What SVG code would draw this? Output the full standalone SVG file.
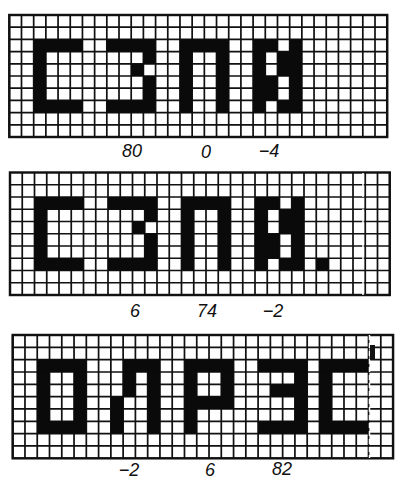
<svg xmlns="http://www.w3.org/2000/svg" width="395" height="481" viewBox="0 0 395 481">
<style>
.grid{fill:none;stroke:#111;stroke-width:0.14}
.frame{fill:none;stroke:#111;stroke-width:0.2}
.ink{fill:#0a0a0a}
.lbl{font-family:"Liberation Sans",Arial,sans-serif;font-style:italic;font-size:18px;fill:#111;text-anchor:middle}
</style>
<defs>
<path id="g" d="M0 0V10M1 0V10M2 0V10M3 0V10M4 0V10M5 0V10M6 0V10M7 0V10M8 0V10M9 0V10M10 0V10M11 0V10M12 0V10M13 0V10M14 0V10M15 0V10M16 0V10M17 0V10M18 0V10M19 0V10M20 0V10M21 0V10M22 0V10M23 0V10M24 0V10M25 0V10M26 0V10M27 0V10M28 0V10M29 0V10M30 0V10M31 0V10M0 1H31M0 2H31M0 3H31M0 4H31M0 5H31M0 6H31M0 7H31M0 8H31M0 9H31"/>
<g id="szpi">
<rect x="2" y="2" width="4" height="1"/><rect x="2" y="3" width="1" height="4"/><rect x="2" y="7" width="4" height="1"/>
<rect x="8" y="2" width="4" height="1"/><rect x="11" y="3" width="1" height="1"/><rect x="10" y="4" width="1" height="1"/><rect x="11" y="5" width="1" height="2"/><rect x="8" y="7" width="4" height="1"/>
<rect x="14" y="2" width="4" height="1"/><rect x="14" y="3" width="1" height="5"/><rect x="17" y="3" width="1" height="5"/>
<rect x="20" y="2" width="1" height="6"/><rect x="23" y="2" width="1" height="6"/><rect x="21" y="2" width="1" height="1"/><rect x="22" y="3" width="1" height="2"/><rect x="21" y="5" width="1" height="2"/><rect x="22" y="7" width="1" height="1"/>
</g>
</defs>
<g id="panel1" transform="translate(9.3 15) scale(12.19 12.2)">
<rect x="0" y="0" width="31" height="10" fill="#fff"/>
<use href="#g" class="grid"/>
<rect class="frame" x="0" y="0" width="31" height="10"/>
<use href="#szpi" class="ink"/>
</g>
<g id="panel2" transform="translate(10 172.5) scale(12.25 12.25)">
<rect x="0" y="0" width="31" height="10" fill="#fff"/>
<use href="#g" class="grid"/>
<rect class="frame" x="0" y="0" width="31" height="10"/>
<use href="#szpi" class="ink"/>
<rect class="ink" x="25" y="7" width="1" height="1"/>
</g>
<g id="panel3" transform="translate(12.7 335) scale(12.27 12.33)">
<rect x="0" y="0" width="31" height="10" fill="#fff"/>
<use href="#g" class="grid"/>
<rect class="frame" x="0" y="0" width="31" height="10"/>
<g class="ink">
<rect x="2" y="2" width="4" height="1"/><rect x="2" y="7" width="4" height="1"/><rect x="2" y="3" width="1" height="4"/><rect x="5" y="3" width="1" height="4"/>
<rect x="9" y="2" width="3" height="1"/><rect x="9" y="3" width="1" height="2"/><rect x="8" y="5" width="1" height="3"/><rect x="11" y="3" width="1" height="5"/>
<rect x="14" y="2" width="4" height="1"/><rect x="14" y="3" width="1" height="5"/><rect x="17" y="3" width="1" height="2"/><rect x="15" y="5" width="3" height="1"/>
<rect x="20" y="2" width="4" height="1"/><rect x="23" y="3" width="1" height="4"/><rect x="21" y="4" width="2" height="1"/><rect x="20" y="7" width="4" height="1"/>
<rect x="25" y="2" width="4" height="1"/><rect x="25" y="3" width="1" height="4"/><rect x="25" y="7" width="4" height="1"/>
</g>
</g>
<g id="artifacts">
<line x1="363" y1="173" x2="363" y2="295" stroke="#fff" stroke-width="1.5" stroke-dasharray="6 3"/>
<line x1="369.5" y1="335" x2="369.5" y2="458" stroke="#fff" stroke-width="1.5" stroke-dasharray="5 3"/>
<rect x="370" y="345" width="5" height="15" fill="#111"/>
</g>
<g id="labels">
<text class="lbl" x="132" y="157">80</text>
<text class="lbl" x="206" y="158">0</text>
<text class="lbl" x="269" y="157">−4</text>
<text class="lbl" x="135" y="317">6</text>
<text class="lbl" x="207" y="317">74</text>
<text class="lbl" x="273" y="317">−2</text>
<text class="lbl" x="129" y="476">−2</text>
<text class="lbl" x="210" y="476">6</text>
<text class="lbl" x="282" y="475">82</text>
</g>
</svg>
